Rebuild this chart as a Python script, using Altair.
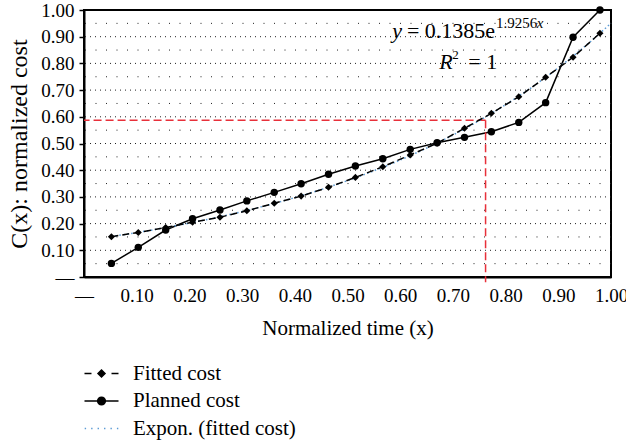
import altair as alt
import pandas as pd

# Normalized time of each progress report
time_x = [0.052, 0.103, 0.155, 0.206, 0.258, 0.309, 0.361, 0.412, 0.464, 0.515,
          0.567, 0.619, 0.670, 0.722, 0.773, 0.825, 0.876, 0.928, 0.979]
# Planned (budgeted) cumulative cost, normalized
planned_cost = [0.051, 0.111, 0.176, 0.218, 0.251, 0.285, 0.317, 0.349, 0.385, 0.416,
                0.443, 0.478, 0.503, 0.523, 0.544, 0.579, 0.653, 0.898, 1.000]
# Cost from the fitted exponential model
fitted_cost = [0.151, 0.167, 0.185, 0.205, 0.224, 0.248, 0.276, 0.303, 0.336, 0.373,
               0.413, 0.457, 0.501, 0.557, 0.613, 0.675, 0.748, 0.823, 0.913]

series_names = ["Fitted cost", "Planned cost", "Expon. (fitted cost)"]

# Crossing point marked by the red guide lines
cutoff_time = [0.762]
cutoff_cost = [0.587]

# Axis tick values and the dotted horizontal grid levels
x_ticks = [round(0.1 * i, 1) for i in range(11)]
y_ticks = [round(0.1 * i, 1) for i in range(11)]
grid_major = [round(0.1 * i, 1) for i in range(1, 10)]
grid_minor = [round(0.05 + 0.1 * i, 2) for i in range(10)]

FONT = "Liberation Serif"
FS = 19          # tick labels
FS_TEXT = 21     # x title, legend
FS_EQ = 22       # equation
TREND_BLUE = "#5b9bd5"
RED = "#e8303a"

df = pd.DataFrame({"x": time_x, "planned": planned_cost, "fitted": fitted_cost})
cut = pd.DataFrame({"x": cutoff_time, "y": cutoff_cost})
legend_df = pd.DataFrame({"series": series_names})
major_df = pd.DataFrame({"level": grid_major})
minor_df = pd.DataFrame({"level": grid_minor})

x_scale = alt.Scale(domain=[0, 1], nice=False, zero=False)
y_scale = alt.Scale(domain=[0, 1], nice=False, zero=False)

DASH_LABEL = "datum.value == 0 ? '—' : format(datum.value, '.2f')"

x_axis = alt.Axis(
    values=x_ticks, tickCount=len(x_ticks), labelExpr=DASH_LABEL,
    grid=False, ticks=False, labelFlush=False, labelOverlap=False,
    labelPadding=9, titleY=57, titleBaseline="alphabetic",
)
y_axis = alt.Axis(
    values=y_ticks, tickCount=len(y_ticks), labelExpr=DASH_LABEL,
    grid=False, tickSize=5, tickWidth=1.5, tickColor="black",
    labelFlush=False, labelOverlap=False, labelPadding=5,
    titleX=-58, titleBaseline="alphabetic", titleFontSize=24,
)

X_TITLE = "Normalized time (x)"
Y_TITLE = "C(x): normalized cost"

# Dotted horizontal grid: denser dots on the labelled levels
grid_major_layer = alt.Chart(major_df).mark_rule(
    color="#222222", strokeWidth=1, strokeDash=[1, 4]
).encode(y=alt.Y("level:Q", scale=y_scale, axis=y_axis, title=Y_TITLE))
grid_minor_layer = alt.Chart(minor_df).mark_rule(
    color="#222222", strokeWidth=1, strokeDash=[1, 9.5]
).encode(y=alt.Y("level:Q", title=Y_TITLE))

# Planned cost: solid line with round markers
planned_line = alt.Chart(df).mark_line(color="black", strokeWidth=1.5).encode(
    x=alt.X("x:Q", scale=x_scale, axis=x_axis, title=X_TITLE),
    y=alt.Y("planned:Q", title=Y_TITLE),
)
planned_pts = alt.Chart(df).mark_circle(color="black", size=55, opacity=1).encode(
    x=alt.X("x:Q", title=X_TITLE), y=alt.Y("planned:Q", title=Y_TITLE)
)

# Exponential trendline through the fitted cost
trend = alt.Chart(df).transform_regression(
    "x", "fitted", method="exp", extent=[time_x[0], x_ticks[-1]]
).mark_line(color=TREND_BLUE, strokeWidth=1.5, strokeDash=[1.5, 2.5]).encode(
    x=alt.X("x:Q", title=X_TITLE), y=alt.Y("fitted:Q", title=Y_TITLE)
)

# Fitted cost: dashed line with diamond markers
fitted_line = alt.Chart(df).mark_line(color="black", strokeWidth=1.5, strokeDash=[7, 4]).encode(
    x=alt.X("x:Q", title=X_TITLE), y=alt.Y("fitted:Q", title=Y_TITLE)
)
fitted_pts = alt.Chart(df).mark_point(shape="diamond", filled=True, color="black", size=50, opacity=1).encode(
    x=alt.X("x:Q", title=X_TITLE), y=alt.Y("fitted:Q", title=Y_TITLE)
)

# Red dashed guides to the crossing point
guide_h = alt.Chart(cut).mark_rule(color=RED, strokeWidth=1.5, strokeDash=[8, 4]).encode(
    x=alt.X("x:Q", title=X_TITLE), x2=alt.datum(0), y=alt.Y("y:Q", title=Y_TITLE)
)
guide_v = alt.Chart(cut).mark_rule(color=RED, strokeWidth=1.5, strokeDash=[8, 4]).encode(
    x=alt.X("x:Q", title=X_TITLE), y=alt.Y("y:Q", title=Y_TITLE), y2=alt.datum(-0.02)
)


def note(text, x, y, size=FS_EQ, style="normal", align="left"):
    return alt.Chart(cut).mark_text(
        text=text, font=FONT, fontSize=size, fontStyle=style, align=align,
        baseline="alphabetic", color="black",
    ).encode(x=alt.datum(x), y=alt.datum(y))


# Regression equation and R squared
notes = [
    note("y", 0.585, 0.897, style="italic"),
    note("= 0.1385e", 0.780, 0.897, align="right"),
    note("1.9256", 0.782, 0.934, size=15),
    note("x", 0.859, 0.934, size=15, style="italic"),
    note("R", 0.674, 0.778, style="italic"),
    note("2", 0.699, 0.816, size=13),
    note("= 1", 0.784, 0.778, align="right"),
]

# Legend symbols: line pieces plus marker, drawn as custom symbol paths
symbol_paths = [
    "M-2.43,0H-1.43M1.43,0H2.43M0,-0.5L0.5,0L0,0.5L-0.5,0Z",
    "M-2.43,0H2.43M0.55,0A0.55,0.55,0,1,1,-0.55,0A0.55,0.55,0,1,1,0.55,0Z",
    "M-2.4,0h0.2M-1.48,0h0.2M-0.56,0h0.2M0.36,0h0.2M1.28,0h0.2M2.2,0h0.2",
]
leg = alt.Legend(
    title=None, orient="none", legendX=7, legendY=353, padding=0,
    symbolSize=196, symbolStrokeWidth=1.5, symbolOpacity=1,
    symbolFillColor="black", symbolStrokeColor="black",
    symbolOffset=0, labelOffset=21, rowPadding=5.5, labelLimit=400,
    labelFont=FONT, labelFontSize=FS_TEXT, labelColor="black",
)
legend_layer = alt.Chart(legend_df).mark_point(filled=True, size=0).encode(
    x=alt.datum(0.5), y=alt.datum(0.5),
    shape=alt.Shape("series:N", scale=alt.Scale(domain=series_names, range=symbol_paths), legend=leg),
    fill=alt.Fill("series:N", scale=alt.Scale(domain=series_names, range=["black", "black", "transparent"]), legend=leg),
    stroke=alt.Stroke("series:N", scale=alt.Scale(domain=series_names, range=["black", "black", TREND_BLUE]), legend=leg),
)

chart = alt.layer(
    grid_major_layer, grid_minor_layer, planned_line, guide_h, guide_v, trend,
    fitted_line, planned_pts, fitted_pts, *notes, legend_layer,
).properties(
    width=527, height=267,
    autosize=alt.AutoSizeParams(type="none"),
    padding={"left": 84, "top": 10, "right": 15, "bottom": 166},
).configure(
    font=FONT,
).configure_view(
    stroke="black", strokeWidth=2,
).configure_axis(
    labelFont=FONT, titleFont=FONT, labelFontSize=FS, titleFontSize=FS_TEXT,
    labelColor="black", titleColor="black", titleFontWeight="normal",
    domainColor="black", domainWidth=2,
)

chart.save("out.html", embed_options={"renderer": "svg", "actions": False})
